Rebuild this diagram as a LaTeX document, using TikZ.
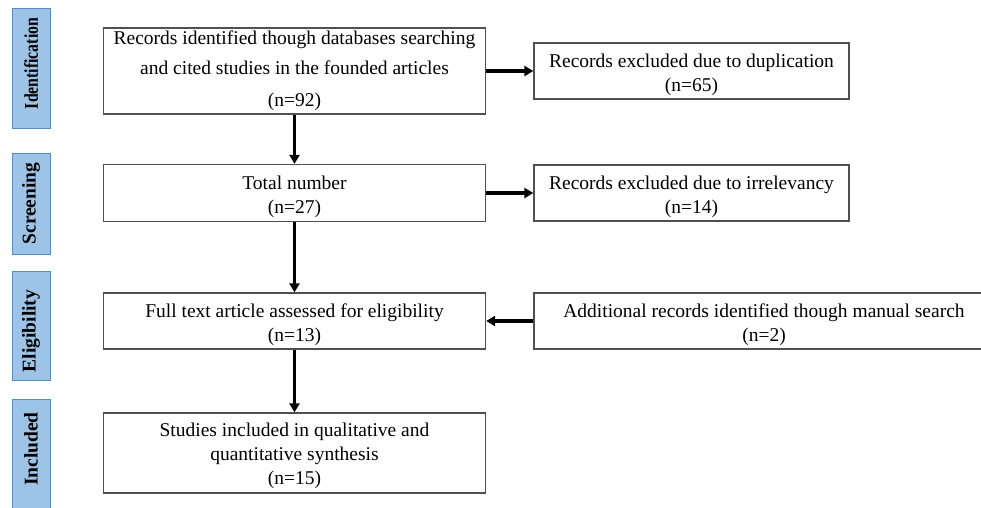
\documentclass[tikz,border=0pt]{standalone}
\usepackage{fontspec}
\setmainfont{Liberation Serif}
\usetikzlibrary{arrows.meta}
\definecolor{barfill}{HTML}{9DC3E6}
\definecolor{bardraw}{HTML}{5A8AC6}
\definecolor{boxdraw}{HTML}{505050}
\newcommand{\toppad}[1]{\rule{0pt}{#1}}
\tikzset{
  stagebar/.style={draw=bardraw, line width=1pt, fill=barfill, minimum width=38pt, inner sep=0pt,
     font=\fontsize{19.5}{23}\selectfont\bfseries},
  flowbox/.style={draw=boxdraw, line width=1.3pt, fill=white, align=center, inner sep=2pt,
     font=\fontsize{19.5}{24}\selectfont},
  flowarrow/.style={line width=3.2pt, -{Triangle[length=9pt,width=10pt]}}
}
\begin{document}
\begin{tikzpicture}[x=1pt,y=-1pt]
\useasboundingbox (0,0) rectangle (981,507);
\clip (0,0) rectangle (981,507);
% stage bars
\node[stagebar, minimum height=120pt] (sid) at (31,68)
  {\rotatebox{90}{\hspace*{9pt}\scalebox{0.81}[1]{Identification}}};
\node[stagebar, minimum height=101pt] (ssc) at (31,203.5) {\rotatebox{90}{Screening}};
\node[stagebar, minimum height=109pt] (sel) at (31,325.5) {\rotatebox{90}{Eligibility\hspace*{11pt}}};
\node[stagebar, minimum height=121pt] (sin) at (31,459.5) {\rotatebox{90}{\hspace*{21pt}Included}};
% main boxes
\node[flowbox, minimum width=382pt, minimum height=86pt,
      font=\fontsize{19.5}{30}\selectfont] (b1) at (294.5,71)
  {Records identified though databases searching\\and cited studies in the founded articles\\[2pt](n=92)};
\node[flowbox, minimum width=382pt, minimum height=57pt] (b2) at (294.5,193)
  {\toppad{21.5pt}Total number\\(n=27)};
\node[flowbox, minimum width=382pt, minimum height=56pt] (b3) at (294.5,321)
  {\toppad{21.5pt}Full text article assessed for eligibility\\(n=13)};
\node[flowbox, minimum width=382pt, minimum height=80pt] (b4) at (294.5,453)
  {\toppad{18.5pt}Studies included in qualitative and\\quantitative synthesis\\(n=15)};
% side boxes
\node[flowbox, minimum width=315pt, minimum height=56pt] (r1) at (691.5,71)
  {\toppad{21.5pt}Records excluded due to duplication\\(n=65)};
\node[flowbox, minimum width=315pt, minimum height=56pt] (r2) at (691.5,193)
  {\toppad{21.5pt}Records excluded due to irrelevancy\\(n=14)};
\node[flowbox, minimum width=460pt, minimum height=56pt] (r3) at (764,321)
  {\toppad{21.5pt}Additional records identified though manual search\\(n=2)};
% arrows
\draw[flowarrow] (b1.south) -- (b2.north);
\draw[flowarrow] (b2.south) -- (b3.north);
\draw[flowarrow] (b3.south) -- (b4.north);
\draw[flowarrow] (b1.east) -- (r1.west);
\draw[flowarrow] (b2.east) -- (r2.west);
\draw[flowarrow] (r3.west) -- (b3.east);
\end{tikzpicture}
\end{document}
